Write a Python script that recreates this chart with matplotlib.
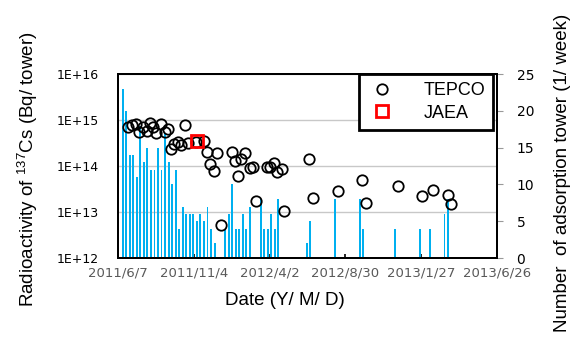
import matplotlib
matplotlib.use('Agg')
import matplotlib.pyplot as plt
import pandas as pd
from matplotlib.ticker import NullLocator

plt.rcParams['font.family'] = ['Liberation Sans', 'DejaVu Sans']
plt.rcParams['mathtext.fontset'] = 'custom'
plt.rcParams['mathtext.rm'] = 'Liberation Sans'
plt.rcParams['mathtext.default'] = 'regular'

# weekly number of adsorption towers (right axis)
bar_dates = ['2011-06-16', '2011-06-23', '2011-06-30', '2011-07-07', '2011-07-14',
             '2011-07-21', '2011-07-28', '2011-08-04', '2011-08-11', '2011-08-18',
             '2011-08-25', '2011-09-01', '2011-09-08', '2011-09-15', '2011-09-22',
             '2011-09-29', '2011-10-06', '2011-10-13', '2011-10-20', '2011-10-27',
             '2011-11-03', '2011-11-10', '2011-11-17', '2011-11-24', '2011-12-01',
             '2011-12-08', '2011-12-15', '2012-01-05', '2012-01-12', '2012-01-19',
             '2012-01-26', '2012-02-02', '2012-02-09', '2012-02-16', '2012-02-23',
             '2012-03-15', '2012-03-22', '2012-03-29', '2012-04-05', '2012-04-12',
             '2012-04-19', '2012-06-14', '2012-06-21', '2012-08-09', '2012-09-27',
             '2012-10-04', '2012-12-06', '2013-01-24', '2013-02-14', '2013-03-14',
             '2013-03-21']
bar_counts = [23, 20, 14, 14, 11,
              18, 13, 15, 12, 12,
              15, 12, 17, 13, 10,
              12, 4, 7, 6, 6,
              6, 5, 6, 5, 7,
              4, 2, 4, 6, 10,
              4, 4, 6, 4, 7,
              8, 4, 4, 6, 4,
              8, 2, 5, 8, 8,
              4, 4, 4, 4, 6,
              8]

# radioactivity of 137Cs per tower (left axis, log)
tepco_dates = ['2011-06-27', '2011-07-04', '2011-07-12', '2011-07-18', '2011-07-26',
               '2011-08-04', '2011-08-09', '2011-08-16', '2011-08-22', '2011-08-31',
               '2011-09-07', '2011-09-14', '2011-09-20', '2011-09-25', '2011-10-04',
               '2011-10-09', '2011-10-17', '2011-10-23', '2011-11-09', '2011-11-25',
               '2011-11-29', '2011-12-06', '2011-12-13', '2011-12-20', '2011-12-27',
               '2012-01-18', '2012-01-25', '2012-01-31', '2012-02-05', '2012-02-14',
               '2012-02-23', '2012-02-29', '2012-03-06', '2012-03-27', '2012-04-02',
               '2012-04-11', '2012-04-17', '2012-04-26', '2012-05-01', '2012-06-19',
               '2012-06-26', '2012-08-15', '2012-10-02', '2012-10-09', '2012-12-11',
               '2013-01-28', '2013-02-19', '2013-03-20', '2013-03-26']
tepco_bq = [7.1e14, 7.8e14, 8.4e14, 5.5e14, 7.2e14,
            5.9e14, 8.8e14, 7.1e14, 5.2e14, 8.2e14,
            5.6e14, 6.5e14, 2.3e14, 3.0e14, 3.4e14,
            2.9e14, 8.0e14, 3.1e14, 3.4e14, 3.5e14,
            2.0e14, 1.1e14, 7.8e13, 1.9e14, 5.2e12,
            2.0e14, 1.3e14, 6.1e13, 1.4e14, 1.9e14,
            9.1e13, 9.5e13, 1.7e13, 9.7e13, 9.5e13,
            1.16e14, 7.4e13, 8.6e13, 1.08e13, 1.4e14,
            2.0e13, 2.9e13, 5.0e13, 1.6e13, 3.7e13,
            2.2e13, 3.0e13, 2.3e13, 1.5e13]

jaea_dates = ['2011-11-10']
jaea_bq = [3.5e14]

xtick_dates = ['2011-06-07', '2011-11-04', '2012-04-02', '2012-08-30', '2013-01-27', '2013-06-26']
xtick_labels = ['2011/6/7', '2011/11/4', '2012/4/2', '2012/8/30', '2013/1/27', '2013/6/26']
left_ticks = [1e12, 1e13, 1e14, 1e15, 1e16]
left_tick_labels = ['1E+12', '1E+13', '1E+14', '1E+15', '1E+16']
right_ticks = [0, 5, 10, 15, 20, 25]

fig = plt.figure(figsize=(5.76, 3.53), dpi=100)
ax = fig.add_axes([0.205, 0.269, 0.658, 0.521])
ax2 = ax.twinx()

xd = pd.to_datetime(xtick_dates)
ax.set_xlim(xd[0], xd[-1])
ax.set_yscale('log')
ax.set_ylim(1e12, 1e16)
ax.set_yticks(left_ticks)
ax.set_yticklabels(left_tick_labels, family='DejaVu Sans')
ax.yaxis.set_minor_locator(NullLocator())
ax.grid(axis='y', color='#c8c8c8', lw=1)
ax.tick_params(axis='y', length=0, pad=14, labelsize=9)
ax.set_xticks(xd)
ax.set_xticklabels(xtick_labels, family='DejaVu Sans')
ax.tick_params(axis='x', direction='in', length=3, width=1.2, labelsize=9.5,
               labelcolor='#595959', pad=6)

ax2.set_ylim(0, 25)
ax2.bar(pd.to_datetime(bar_dates), bar_counts, width=3.8, color='#00B0F0',
        linewidth=0, zorder=1)
ax2.plot(pd.to_datetime(tepco_dates), tepco_bq, 'o', mfc='none', mec='black', ms=7.5,
         mew=1.3, transform=ax.transData, label='TEPCO', zorder=3)
ax2.plot(pd.to_datetime(jaea_dates), jaea_bq, 's', mfc='none', mec='red', ms=9,
         mew=2, transform=ax.transData, label='JAEA', zorder=4)
ax2.set_ylim(0, 25)
ax2.set_yticks(right_ticks)
ax2.tick_params(axis='y', direction='out', length=4, color='#999999', labelsize=10,
                pad=10)
ax2.set_yticklabels([str(v) for v in right_ticks], family='DejaVu Sans')

for a in (ax, ax2):
    for s in a.spines.values():
        s.set_color('black')
        s.set_linewidth(1.4)

leg = ax2.legend(loc='upper right', bbox_to_anchor=(0.99, 1.0), borderaxespad=0,
                 fancybox=False, fontsize=13, handletextpad=1.5, borderpad=0.45,
                 labelspacing=0.3, handlelength=1.6)
leg.get_frame().set_edgecolor('black')
leg.get_frame().set_linewidth(2)
leg.get_frame().set_alpha(1)

fig.text(0.495, 0.15, 'Date (Y/ M/ D)', ha='center', va='center', fontsize=13.5)
fig.text(0.048, 0.52, 'Radioactivity of $^{137}$Cs (Bq/ tower)', rotation=90,
         ha='center', va='center', fontsize=13.5)
fig.text(0.977, 0.51, 'Number  of adsorption tower (1/ week)', rotation=90,
         ha='center', va='center', fontsize=13.5)

fig.savefig('out.png', dpi=100)
